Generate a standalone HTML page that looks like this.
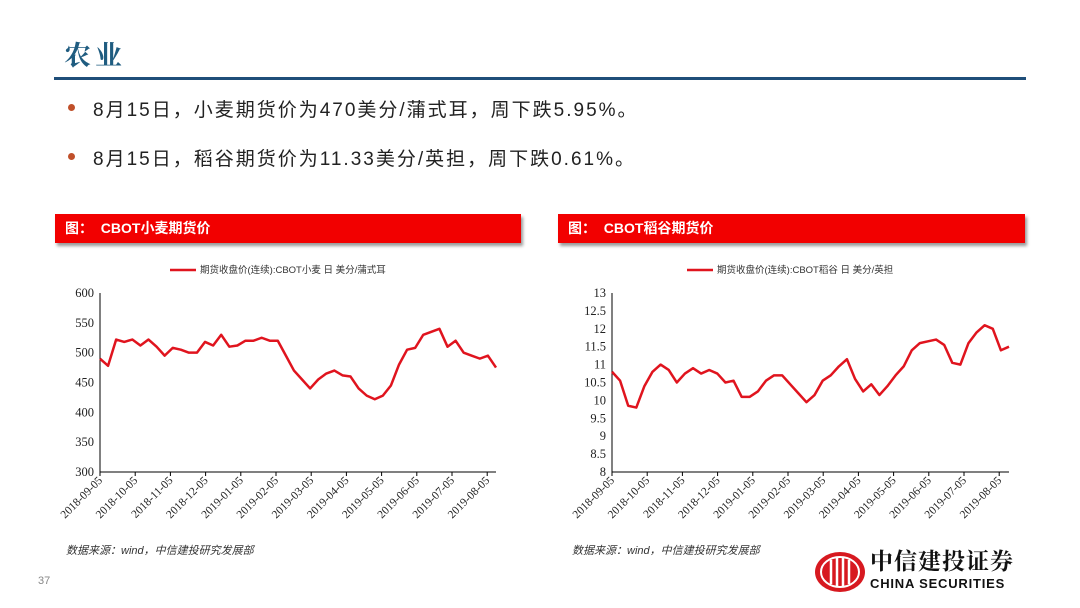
<!DOCTYPE html>
<html><head><meta charset="utf-8">
<style>
body{margin:0;width:1080px;height:608px;background:#fff;position:relative;overflow:hidden;font-family:"Liberation Sans","Noto Sans CJK SC",sans-serif;}
.abs{position:absolute;}
.title{left:64px;top:34px;font-size:27px;font-weight:bold;color:#1f5c80;font-family:"Liberation Serif","Noto Serif CJK SC",serif;letter-spacing:4px;}
.rule{left:54px;top:77px;width:972px;height:3px;background:#1f4e79;}
.bullet{left:68px;width:7px;height:7px;border-radius:50%;background:#c0502a;}
.btext{left:93px;font-size:19px;color:#222;letter-spacing:2px;}
.hdr{height:29px;background:#f20000;box-shadow:2px 3px 3px #999;color:#fff;font-weight:bold;font-size:14px;line-height:29px;padding-left:10px;box-sizing:border-box;}
.src{font-size:11px;font-style:italic;color:#333;}
</style></head><body>
<div class="abs title">农业</div>
<div class="abs rule"></div>
<div class="abs bullet" style="top:104px"></div>
<div class="abs btext" style="top:95px">8月15日，小麦期货价为470美分/蒲式耳，周下跌5.95%。</div>
<div class="abs bullet" style="top:153px"></div>
<div class="abs btext" style="top:144px">8月15日，稻谷期货价为11.33美分/英担，周下跌0.61%。</div>
<div class="abs hdr" style="left:55px;top:214px;width:466px">图：&nbsp; CBOT小麦期货价</div>
<div class="abs hdr" style="left:558px;top:214px;width:467px">图：&nbsp; CBOT稻谷期货价</div>
<svg class="abs" style="left:0;top:0" width="1080" height="608" id="svg"></svg>
<div class="abs src" style="left:66px;top:542px">数据来源：wind，中信建投研究发展部</div>
<div class="abs src" style="left:572px;top:542px">数据来源：wind，中信建投研究发展部</div>
<div class="abs" style="left:38px;top:575px;font-size:11px;color:#888">37</div>
<svg class="abs" style="left:813px;top:550px" width="54" height="44">
<ellipse cx="27" cy="22" rx="25" ry="20" fill="#d71920"/>
<ellipse cx="27" cy="22" rx="19" ry="15" fill="none" stroke="#fff" stroke-width="2"/>
<path d="M18 10v24M24 8v28M30 8v28M36 10v24" stroke="#fff" stroke-width="2.5"/>
</svg>
<div class="abs" style="left:870px;top:548px;font-size:23px;line-height:27px;font-weight:bold;color:#111;letter-spacing:1px;font-family:'Liberation Serif','Noto Serif CJK SC',serif">中信建投证券</div>
<div class="abs" style="left:870px;top:576px;font-size:13px;line-height:15px;font-weight:bold;color:#111;letter-spacing:0.8px">CHINA SECURITIES</div>
<script>
const tickLabels=["2018-09-05","2018-10-05","2018-11-05","2018-12-05","2019-01-05","2019-02-05","2019-03-05","2019-04-05","2019-05-05","2019-06-05","2019-07-05","2019-08-05"];
const wheatVals=[490,478,522,518,522,512,522,510,495,508,505,500,500,518,512,530,510,512,520,520,525,520,520,495,470,455,440,455,465,470,462,460,440,428,422,428,445,480,505,508,530,535,540,510,520,500,495,490,495,475];
const riceVals=[10.8,10.55,9.85,9.8,10.4,10.8,11.0,10.85,10.5,10.75,10.9,10.75,10.85,10.75,10.5,10.55,10.1,10.1,10.25,10.55,10.7,10.7,10.45,10.2,9.95,10.15,10.55,10.7,10.95,11.15,10.6,10.25,10.45,10.15,10.4,10.7,10.95,11.4,11.6,11.65,11.7,11.55,11.05,11.0,11.6,11.9,12.1,12.0,11.4,11.5];
const wheatTicks=[300,350,400,450,500,550,600];
const riceTicks=[8,8.5,9,9.5,10,10.5,11,11.5,12,12.5,13];
const svg=document.getElementById('svg');
const NS='http://www.w3.org/2000/svg';
function mk(t,a){const e=document.createElementNS(NS,t);for(const k in a)e.setAttribute(k,a[k]);svg.appendChild(e);return e;}
function chart(id,x0,x1,vals,ticks,legend,legX){
  const y0=472,y1=293,tick0=x0,tickStep=35.2;
  const lo=ticks[0],hi=ticks[ticks.length-1];
  const ys=v=>y0-(v-lo)/(hi-lo)*(y0-y1);
  const xs=i=>x0+i/(vals.length-1)*(x1-x0);
  const ax=mk('path',{d:`M${x0} ${y1}V${y0}H${x1}`,stroke:'#000','stroke-width':1,fill:'none'});
  
  
  ticks.forEach(t=>{
    const l=mk('text',{x:x0-6,y:ys(t)+4,'text-anchor':'end','font-size':12.5,fill:'#222','font-family':'Liberation Serif,serif'});
    l.textContent=t;
    
    
  });
  tickLabels.forEach((t,i)=>{
    const x=tick0+i*tickStep;
    mk('line',{x1:x,x2:x,y1:y0,y2:y0+4,stroke:'#000'});
    const l=mk('text',{x:x+3,y:y0+9,'text-anchor':'end','font-size':11.5,fill:'#222','font-family':'Liberation Serif,serif',transform:`rotate(-45 ${x+3} ${y0+9})`});
    l.textContent=t;
    
    
  });
  const p=mk('polyline',{points:vals.map((v,i)=>xs(i)+','+ys(v)).join(' '),fill:'none',stroke:'#e0141e','stroke-width':2.5,'stroke-linejoin':'round'});
  
  
  const ll=mk('line',{x1:legX,x2:legX+26,y1:270,y2:270,stroke:'#e0141e','stroke-width':2.5});
  
  
  const lt=mk('text',{x:legX+30,y:273,'font-size':9.5,fill:'#333'});
  lt.textContent=legend;
  
  
}
chart('wheat',100,496,wheatVals,wheatTicks,'期货收盘价(连续):CBOT小麦 日 美分/蒲式耳',170);
chart('rice',612,1009,riceVals,riceTicks,'期货收盘价(连续):CBOT稻谷 日 美分/英担',687);
</script>
</body></html>
